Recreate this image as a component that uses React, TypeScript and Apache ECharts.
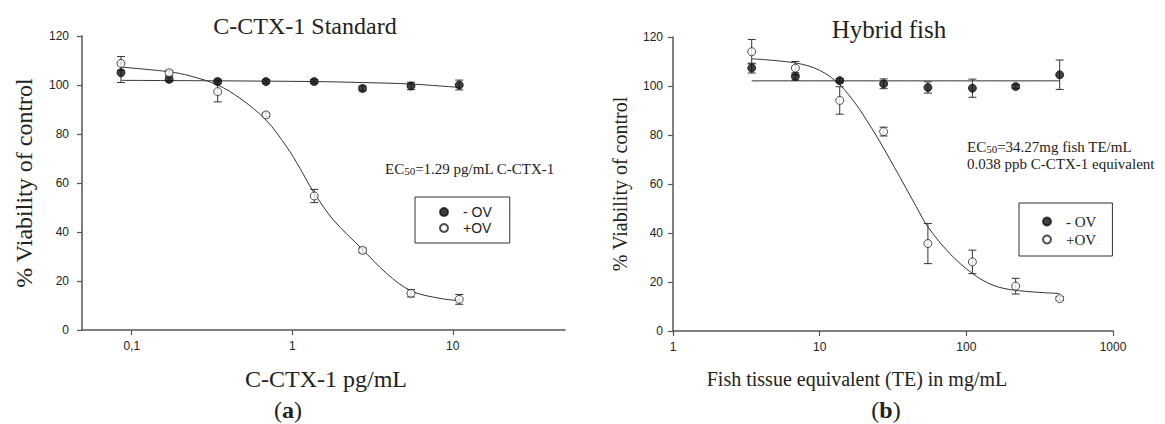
import React, { useEffect, useRef } from "react";
import * as echarts from "echarts";

// ---------- (a) C-CTX-1 Standard ----------
const leftConc = [0.0857, 0.171, 0.343, 0.686, 1.37, 2.74, 5.49, 10.97];
const leftMinusOV = [105.0, 102.3, 101.4, 101.4, 101.4, 98.6, 99.6, 100.0];
const leftMinusOVErr = [4.0, 1.0, 1.0, 0.8, 0.8, 1.0, 1.5, 2.0];
const leftPlusOV = [108.8, 105.0, 97.3, 87.8, 54.7, 32.5, 15.0, 12.5];
const leftPlusOVErr = [2.8, 1.0, 4.2, 0.8, 2.7, 1.0, 1.5, 2.0];
const leftMinusFitX = [0.0857, 0.343, 1.37, 2.74, 5.49, 10.97];
const leftMinusFitY = [101.9, 101.7, 101.4, 101.0, 100.4, 99.0];
const leftPlusFitX = [0.0857, 0.171, 0.231, 0.343, 0.472, 0.686, 0.922, 1.117, 1.352, 1.8, 2.7, 3.87, 5.48, 8.32, 10.97];
const leftPlusFitY = [107.3, 105.4, 103.7, 100.0, 94.6, 85.7, 74.8, 66.0, 56.5, 45.0, 33.3, 23.1, 16.0, 12.9, 12.0];
const leftTickValues = [0.1, 1, 10];
const leftTickLabels = ["0,1", "1", "10"];
const leftXRange = [0.049, 50];

// ---------- (b) Hybrid fish ----------
const rightConc = [3.44, 6.83, 13.7, 27.3, 54.7, 110, 217, 433];
const rightMinusOV = [107.3, 103.9, 102.2, 100.9, 99.4, 99.1, 99.8, 104.6];
const rightMinusOVErr = [2.0, 1.5, 0.8, 2.0, 2.3, 3.7, 0.8, 6.0];
const rightPlusOV = [114.0, 107.3, 94.1, 81.4, 35.7, 28.2, 18.3, 13.2];
const rightPlusOVErr = [5.0, 2.7, 5.6, 1.8, 8.2, 4.8, 3.2, 0.8];
const rightMinusFitX = [3.44, 433];
const rightMinusFitY = [102.1, 102.1];
const rightPlusFitX = [3.44, 6.83, 10.0, 13.7, 17.8, 21.9, 25.6, 35.1, 45.6, 54.7, 76.9, 109.9, 151.8, 216.8, 433];
const rightPlusFitY = [111.1, 109.4, 106.4, 100.5, 92.3, 84.1, 77.5, 63.0, 50.7, 42.5, 31.7, 23.5, 18.7, 16.6, 15.3];
const rightTickValues = [1, 10, 100, 1000];
const rightTickLabels = ["1", "10", "100", "1000"];
const rightXRange = [1, 1000];

const yTicks = { min: 0, max: 120, interval: 20 };
const yTitle = "% Viability of control";

const SERIF = "Liberation Serif";
const SANS = "Liberation Sans";
const INK = "#222";
const AXIS = "#555";

const lg = (v: number) => Math.log10(v);
const pts = (xs: number[], ys: number[]) => xs.map((x, i) => [lg(x), ys[i]]);
const errPts = (xs: number[], ys: number[], es: number[]) => xs.map((x, i) => [lg(x), ys[i], es[i]]);

const errorRender = (_params: any, api: any) => {
  const x = api.value(0);
  const y = api.value(1);
  const e = api.value(2);
  const t = api.coord([x, y + e]);
  const b = api.coord([x, y - e]);
  const w = 4;
  const st = { stroke: "#333", lineWidth: 1 };
  return {
    type: "group",
    children: [
      { type: "line", shape: { x1: t[0], y1: t[1], x2: b[0], y2: b[1] }, style: st },
      { type: "line", shape: { x1: t[0] - w, y1: t[1], x2: t[0] + w, y2: t[1] }, style: st },
      { type: "line", shape: { x1: b[0] - w, y1: b[1], x2: b[0] + w, y2: b[1] }, style: st },
    ],
  };
};

function xAxisFor(gridIndex: number, range: number[], vals: number[], labels: string[], margin: number) {
  const custom = vals.map(lg);
  return {
    type: "value",
    gridIndex,
    min: lg(range[0]),
    max: lg(range[1]),
    axisLine: { show: true, onZero: false, lineStyle: { color: AXIS, width: 1.5 } },
    axisTick: { show: true, length: 5, customValues: custom, lineStyle: { color: AXIS, width: 1.2 } },
    axisLabel: {
      customValues: custom,
      margin,
      color: INK,
      fontFamily: SANS,
      fontSize: 12,
      formatter: (v: number) => {
        const i = custom.findIndex((c) => Math.abs(c - v) < 1e-6);
        return i >= 0 ? labels[i] : "";
      },
    },
    splitLine: { show: false },
  };
}

function yAxisFor(gridIndex: number, margin: number, nameSize: number, nameGap: number) {
  return {
    type: "value",
    gridIndex,
    min: yTicks.min,
    max: yTicks.max,
    interval: yTicks.interval,
    name: yTitle,
    nameLocation: "middle",
    nameRotate: 90,
    nameGap,
    nameTextStyle: { fontFamily: SERIF, fontSize: nameSize, color: INK },
    axisLine: { show: true, onZero: false, lineStyle: { color: AXIS, width: 1.5 } },
    axisTick: { show: true, length: 5, lineStyle: { color: AXIS, width: 1.2 } },
    axisLabel: { margin, color: INK, fontFamily: SANS, fontSize: 12 },
    splitLine: { show: false },
  };
}

function seriesFor(idx: number, conc: number[], minus: number[], minusErr: number[], plus: number[], plusErr: number[],
  mfx: number[], mfy: number[], pfx: number[], pfy: number[]) {
  const ax = { xAxisIndex: idx, yAxisIndex: idx };
  const lineStyle = { color: "#333", width: 1 };
  return [
    { ...ax, type: "line", name: "fitMinus" + idx, data: pts(mfx, mfy), smooth: 0.35, showSymbol: false, lineStyle, z: 2, silent: true },
    { ...ax, type: "line", name: "fitPlus" + idx, data: pts(pfx, pfy), smooth: 0.35, showSymbol: false, lineStyle, z: 2, silent: true },
    { ...ax, type: "custom", name: "errMinus" + idx, data: errPts(conc, minus, minusErr), renderItem: errorRender, z: 3, silent: true },
    { ...ax, type: "custom", name: "errPlus" + idx, data: errPts(conc, plus, plusErr), renderItem: errorRender, z: 3, silent: true },
    { ...ax, type: "scatter", name: "- OV", data: pts(conc, minus), symbol: "circle", symbolSize: 8, itemStyle: { color: "#111", borderColor: "#111", borderWidth: 1 }, z: 4 },
    { ...ax, type: "scatter", name: "+OV", data: pts(conc, plus), symbol: "circle", symbolSize: 8, itemStyle: { color: "#fff", borderColor: "#222", borderWidth: 1 }, z: 5 },
  ];
}

function text(x: number, y: number, t: string, size: number, family: string, extra: any = {}) {
  return {
    type: "text",
    x,
    y,
    style: {
      text: t,
      fontSize: size,
      fontFamily: family,
      fill: INK,
      align: extra.align || "center",
      verticalAlign: "middle",
      rich: extra.rich,
    },
  };
}

export default function App() {
  const ref = useRef<HTMLDivElement>(null);
  useEffect(() => {
    if (!ref.current) return;
    const chart = echarts.init(ref.current, undefined, { renderer: "svg" });
    const sub = (size: number) => ({
      n: { fontSize: size, fontFamily: SERIF, color: INK, lineHeight: size + 4, verticalAlign: "bottom" },
      s: { fontSize: Math.round(size * 0.7), fontFamily: SERIF, color: INK, lineHeight: size * 0.7, verticalAlign: "bottom" },
    });
    const ab = (size: number) => ({
      n: { fontSize: size, fontFamily: SERIF, color: INK },
      b: { fontSize: size, fontFamily: SERIF, color: INK, fontWeight: "bold" },
    });
    const option: any = {
      animation: false,
      backgroundColor: "#fff",
      grid: [
        { left: 82, top: 36, width: 483, height: 294 },
        { left: 673, top: 37, width: 440, height: 294 },
      ],
      xAxis: [
        xAxisFor(0, leftXRange, leftTickValues, leftTickLabels, 10),
        xAxisFor(1, rightXRange, rightTickValues, rightTickLabels, 10),
      ],
      yAxis: [yAxisFor(0, 13, 24, 46), yAxisFor(1, 10, 20, 43)],
      legend: [
        {
          left: 415,
          top: 197,
          orient: "vertical",
          selectedMode: false,
          data: ["- OV", "+OV"],
          icon: "circle",
          itemWidth: 8,
          itemHeight: 8,
          itemGap: 2,
          padding: [8, 18, 8, 24],
          borderColor: "#333",
          borderWidth: 1,
          textStyle: { fontFamily: SANS, fontSize: 14, color: INK, padding: [0, 0, 0, 10] },
        },
        {
          left: 1019,
          top: 203,
          orient: "vertical",
          selectedMode: false,
          data: ["- OV", "+OV"],
          icon: "circle",
          itemWidth: 8,
          itemHeight: 8,
          itemGap: 3,
          padding: [11, 16, 9, 23],
          borderColor: "#333",
          borderWidth: 1,
          textStyle: { fontFamily: SERIF, fontSize: 15, color: INK, padding: [0, 0, 0, 10] },
        },
      ],
      series: [
        ...seriesFor(0, leftConc, leftMinusOV, leftMinusOVErr, leftPlusOV, leftPlusOVErr, leftMinusFitX, leftMinusFitY, leftPlusFitX, leftPlusFitY),
        ...seriesFor(1, rightConc, rightMinusOV, rightMinusOVErr, rightPlusOV, rightPlusOVErr, rightMinusFitX, rightMinusFitY, rightPlusFitX, rightPlusFitY),
      ],
      graphic: [
        text(305, 26, "C-CTX-1 Standard", 24, SERIF),
        text(889, 29, "Hybrid fish", 25, SERIF),
        text(326, 379, "C-CTX-1 pg/mL", 24, SERIF),
        text(857, 379, "Fish tissue equivalent (TE) in mg/mL", 20, SERIF),
        text(288, 410, "{n|(}{b|a}{n|)}", 24, SERIF, { rich: ab(24) }),
        text(886, 410, "{n|(}{b|b}{n|)}", 24, SERIF, { rich: ab(24) }),
        text(385, 167, "{n|EC}{s|50}{n|=1.29 pg/mL C-CTX-1}", 15, SERIF, { align: "left", rich: sub(15) }),
        text(967, 145, "{n|EC}{s|50}{n|=34.27mg fish TE/mL}", 15, SERIF, { align: "left", rich: sub(15) }),
        text(967, 164, "0.038 ppb C-CTX-1 equivalent", 15, SERIF, { align: "left" }),
      ],
    };
    chart.setOption(option);
    return () => chart.dispose();
  }, []);
  return <div ref={ref} style={{ position: "absolute", left: 0, top: 0, width: 1165, height: 424 }} />;
}
